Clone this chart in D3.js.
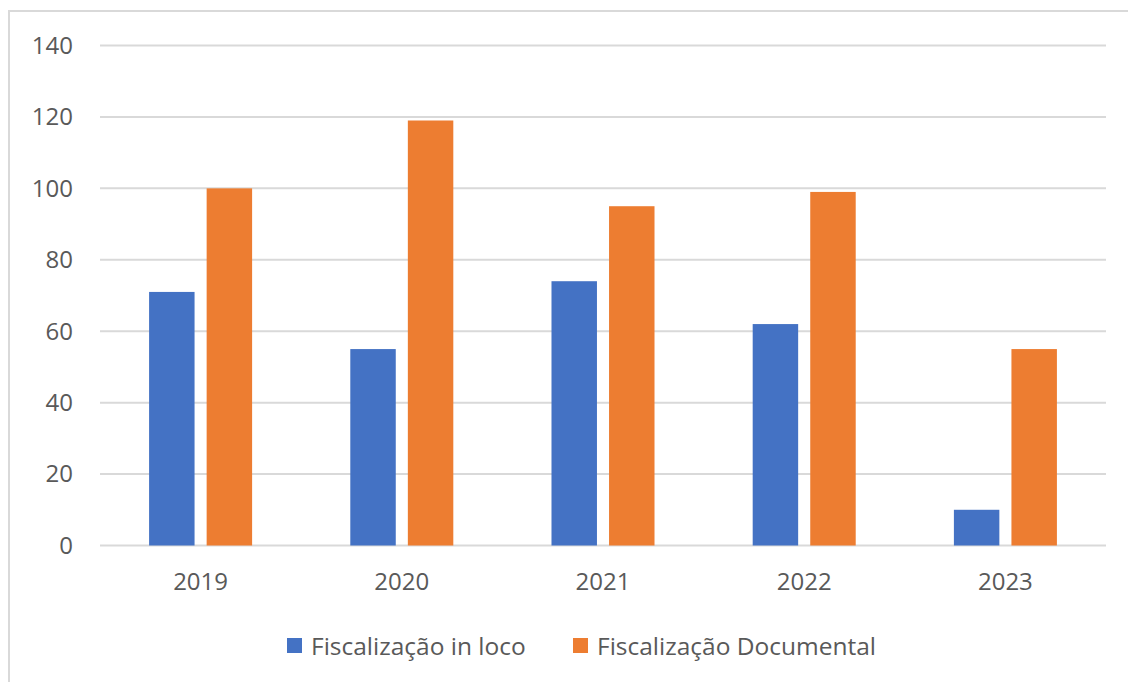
<!DOCTYPE html>
<html lang="pt">

<head>
    <meta charset="UTF-8">
    <title>Fiscalizações 2019-2023</title>
    <style>
        body { margin: 0; background: #fff; }
        text { font-family: "Segoe UI", "Open Sans", sans-serif; fill: #595959; }
    </style>
</head>

<body>
    <script src="https://cdn.jsdelivr.net/npm/d3@7"></script>
    <script>
        const years = ['2019', '2020', '2021', '2022', '2023'];
        const seriesNames = ['Fiscalização in loco', 'Fiscalização Documental'];
        const inLoco = [71, 55, 74, 62, 10];
        const documental = [100, 119, 95, 99, 55];
        const yTicks = [0, 20, 40, 60, 80, 100, 120, 140];
        const colors = ['#4472C4', '#ED7D31'];

        const svg_w = 1128;
        const svg_h = 682;

        const svg = d3.select('body')
            .append('svg')
            .attr('width', svg_w)
            .attr('height', svg_h);

        // chart frame (runs off the right and bottom edges)
        svg.append('rect')
            .attr('x', 9)
            .attr('y', 11)
            .attr('width', 1140)
            .attr('height', 700)
            .attr('fill', 'none')
            .attr('stroke', '#d9d9d9')
            .attr('stroke-width', 2);

        const x = d3.scaleBand()
            .domain(years)
            .range([100, 1106])
            .paddingInner(0.488)
            .paddingOuter(0.244);

        const xs = d3.scaleBand()
            .domain([0, 1])
            .range([0, x.bandwidth()])
            .paddingInner(0.21);

        const y = d3.scaleLinear()
            .domain([0, 140])
            .range([545.5, 45.5]);

        // gridlines
        svg.append('g')
            .selectAll('line')
            .data(yTicks)
            .join('line')
            .attr('x1', 100)
            .attr('x2', 1106)
            .attr('y1', d => y(d))
            .attr('y2', d => y(d))
            .attr('stroke', '#d9d9d9')
            .attr('stroke-width', 2);

        // y labels
        svg.append('g')
            .selectAll('text')
            .data(yTicks)
            .join('text')
            .attr('x', 73)
            .attr('y', d => y(d))
            .attr('dy', '0.35em')
            .attr('text-anchor', 'end')
            .style('font-size', '24px')
            .text(d => d);

        // bars
        const series = [inLoco, documental];
        series.forEach((vals, s) => {
            svg.append('g')
                .selectAll('rect')
                .data(vals)
                .join('rect')
                .attr('x', (d, i) => x(years[i]) + xs(s))
                .attr('width', xs.bandwidth())
                .attr('y', d => y(d))
                .attr('height', d => y(0) - y(d))
                .attr('fill', colors[s]);
        });

        // x labels
        svg.append('g')
            .selectAll('text')
            .data(years)
            .join('text')
            .attr('x', d => x(d) + x.bandwidth() / 2)
            .attr('y', 582)
            .attr('dy', '0.35em')
            .attr('text-anchor', 'middle')
            .style('font-size', '24px')
            .text(d => d);

        // legend
        const legendX = [287, 573];
        const legend = svg.append('g')
            .selectAll('g')
            .data(seriesNames)
            .join('g')
            .attr('transform', (d, i) => `translate(${legendX[i]},638)`);

        legend.append('rect')
            .attr('width', 15)
            .attr('height', 15)
            .attr('fill', (d, i) => colors[i]);

        legend.append('text')
            .attr('x', 24)
            .attr('y', 8)
            .attr('dy', '0.35em')
            .style('font-size', '24.5px')
            .text(d => d);
    </script>
</body>

</html>
